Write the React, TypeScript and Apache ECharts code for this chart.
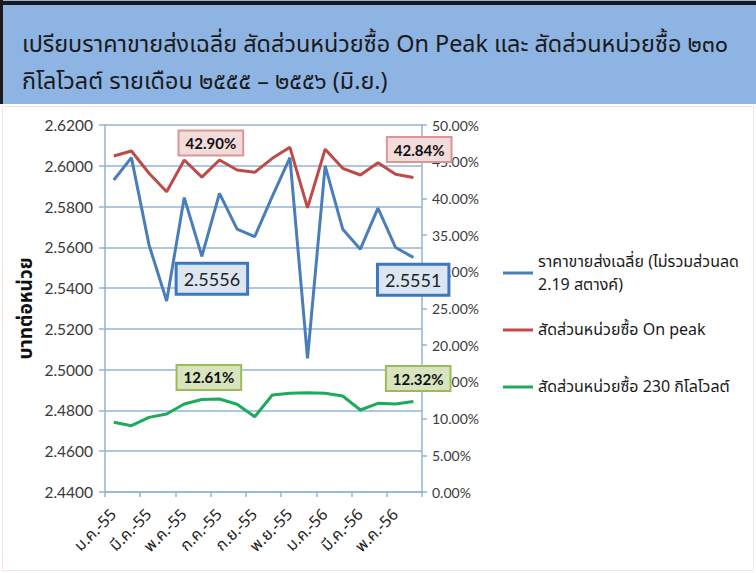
import React, { useEffect, useRef } from "react";
import * as echarts from "echarts";

const categories = [
  "ม.ค.-55", "ก.พ.-55", "มี.ค.-55", "เม.ย.-55", "พ.ค.-55", "มิ.ย.-55",
  "ก.ค.-55", "ส.ค.-55", "ก.ย.-55", "ต.ค.-55", "พ.ย.-55", "ธ.ค.-55",
  "ม.ค.-56", "ก.พ.-56", "มี.ค.-56", "เม.ย.-56", "พ.ค.-56", "มิ.ย.-56",
];

const avgPrice = [
  2.593, 2.604, 2.5612, 2.5337, 2.5844, 2.5556, 2.5865, 2.5689, 2.5652,
  2.585, 2.604, 2.5056, 2.6, 2.5689, 2.5591, 2.5792, 2.5599, 2.5551,
];

const onPeakShare = [
  45.78, 46.46, 43.42, 40.91, 45.23, 42.9, 45.23, 43.87, 43.55,
  45.46, 46.96, 38.7, 46.69, 44.1, 43.19, 44.86, 43.28, 42.84,
];

const kv230Share = [
  9.5, 9.03, 10.17, 10.63, 11.99, 12.61, 12.67, 11.95, 10.26,
  13.22, 13.45, 13.53, 13.45, 13.08, 11.17, 12.08, 11.99, 12.32,
];

const labelledIndices = [5, 17];

const seriesNames = [
  "ราคาขายส่งเฉลี่ย (ไม่รวมส่วนลด 2.19 สตางค์)",
  "สัดส่วนหน่วยซื้อ On peak",
  "สัดส่วนหน่วยซื้อ 230 กิโลโวลต์",
];

const titleLines = [
  "เปรียบราคาขายส่งเฉลี่ย สัดส่วนหน่วยซื้อ On Peak และ สัดส่วนหน่วยซื้อ ๒๓๐",
  "กิโลโวลต์ รายเดือน ๒๕๕๕ – ๒๕๕๖ (มิ.ย.)",
];

const THAI = "'Noto Sans Thai', 'Noto Sans Thai Looped', Tahoma, 'DejaVu Sans', sans-serif";
const NUM = "Lato, 'Open Sans', 'DejaVu Sans', sans-serif";
const GRID = "#93B5D3";

export default function App() {
  const ref = useRef<HTMLDivElement>(null);

  useEffect(() => {
    if (!ref.current) return;
    const chart = echarts.init(ref.current, undefined, { renderer: "svg" });

    const blueLabel = (i: number) => ({
      show: true,
      position: "bottom",
      distance: 8,
      offset: [i === 5 ? 10 : 0, 0],
      formatter: (p: any) => Number(p.value).toFixed(4),
      backgroundColor: "#DCE6F2",
      borderColor: "#3C78C0",
      borderWidth: 3,
      padding: [5, 6],
      fontSize: 18,
      color: "#222",
      fontFamily: NUM,
    });
    const redLabel = (i: number) => ({
      show: true,
      position: "top",
      distance: i === 5 ? 22 : 16,
      offset: [i === 5 ? 9 : 6, 0],
      formatter: (p: any) => Number(p.value).toFixed(2) + "%",
      backgroundColor: "#F2DCDB",
      borderColor: "#D99694",
      borderWidth: 2,
      padding: [4, 6],
      fontSize: 15,
      fontWeight: "bold",
      color: "#111",
      fontFamily: NUM,
    });
    const greenLabel = (i: number) => ({
      show: true,
      position: "top",
      distance: i === 5 ? 10 : 11,
      offset: [i === 5 ? 7 : 5, 0],
      formatter: (p: any) => Number(p.value).toFixed(2) + "%",
      backgroundColor: "#D7E4BD",
      borderColor: "#9BBB59",
      borderWidth: 2,
      padding: [4, 6],
      fontSize: 15,
      fontWeight: "bold",
      color: "#111",
      fontFamily: NUM,
    });

    const withLabels = (arr: number[], mk: (i: number) => any) =>
      arr.map((v, i) =>
        labelledIndices.includes(i)
          ? { value: v, symbol: "circle", symbolSize: 1, label: mk(i) }
          : v
      );

    const legendText = { fontSize: 16, color: "#1a1a1a", fontFamily: THAI, lineHeight: 23 };
    const legendBase = {
      orient: "vertical",
      left: 503,
      padding: 0,
      icon: "rect",
      itemWidth: 30,
      itemHeight: 3,
    };

    chart.setOption({
      animation: false,
      backgroundColor: "#ffffff",
      title: {
        text: titleLines.join("\n"),
        left: 22,
        top: 26,
        padding: 0,
        textStyle: {
          fontSize: 23.4,
          fontWeight: "normal",
          lineHeight: 37,
          color: "#1a1a1a",
          fontFamily: THAI,
        },
      },
      graphic: [
        { type: "rect", z: -10, shape: { x: 0, y: 0, width: 756, height: 104 }, style: { fill: "#8EB4E3" } },
        { type: "rect", z: -9, shape: { x: 0, y: 1, width: 756, height: 4 }, style: { fill: "#1a1a1a" } },
        { type: "rect", z: -9, shape: { x: 0, y: 0, width: 3, height: 104 }, style: { fill: "#1a1a1a" } },
        { type: "rect", z: -9, shape: { x: 2.5, y: 106.5, width: 751, height: 464 }, style: { fill: "none", stroke: "#F7E4DD", lineWidth: 1 } },
      ],
      legend: [
        {
          ...legendBase,
          data: [seriesNames[0]],
          top: 238.5,
          formatter: () => "ราคาขายส่งเฉลี่ย (ไม่รวมส่วนลด\n2.19 สตางค์)",
          textStyle: { ...legendText, padding: [23, 0, 0, 0] },
        },
        { ...legendBase, data: [seriesNames[1]], top: 318.5, textStyle: legendText },
        { ...legendBase, data: [seriesNames[2]], top: 375.5, textStyle: legendText },
      ],
      grid: { left: 105, right: 334, top: 125, bottom: 81, containLabel: false },
      xAxis: {
        type: "category",
        data: categories,
        boundaryGap: true,
        axisLine: { lineStyle: { color: GRID, width: 1.5 } },
        axisTick: { show: true, interval: 1, length: 5, lineStyle: { color: GRID, width: 1.5 } },
        axisLabel: {
          interval: 1,
          rotate: 45,
          fontSize: 16,
          color: "#222",
          margin: 20,
          fontFamily: THAI,
        },
      },
      yAxis: [
        {
          type: "value",
          min: 2.44,
          max: 2.62,
          interval: 0.02,
          name: "บาทต่อหน่วย",
          nameLocation: "middle",
          nameGap: 69,
          nameRotate: 90,
          nameTextStyle: { fontSize: 19, fontWeight: "bold", color: "#111", fontFamily: THAI },
          axisLine: { show: true, lineStyle: { color: GRID, width: 1.5 } },
          axisTick: { show: true, length: 6, lineStyle: { color: GRID, width: 1.5 } },
          axisLabel: {
            formatter: (v: number) => v.toFixed(4),
            fontSize: 15.5,
            color: "#3a3a3a",
            margin: 12,
            fontFamily: NUM,
          },
          splitLine: { show: true, lineStyle: { color: GRID, width: 1.5 } },
        },
        {
          type: "value",
          position: "right",
          min: 0,
          max: 50,
          interval: 5,
          axisLine: { show: true, lineStyle: { color: GRID, width: 1.5 } },
          axisTick: { show: true, length: 5, lineStyle: { color: GRID, width: 1.5 } },
          axisLabel: {
            formatter: (v: number) => v.toFixed(2) + "%",
            fontSize: 14,
            color: "#3a3a3a",
            margin: 10,
            fontFamily: NUM,
          },
          splitLine: { show: false },
        },
      ],
      series: [
        {
          name: seriesNames[0],
          type: "line",
          yAxisIndex: 0,
          symbol: "none",
          showAllSymbol: true,
          z: 3,
          lineStyle: { color: "#4A7EBB", width: 3 },
          itemStyle: { color: "#4A7EBB" },
          data: withLabels(avgPrice, blueLabel),
        },
        {
          name: seriesNames[1],
          type: "line",
          yAxisIndex: 1,
          symbol: "none",
          showAllSymbol: true,
          z: 2,
          lineStyle: { color: "#BE4B48", width: 3 },
          itemStyle: { color: "#BE4B48" },
          data: withLabels(onPeakShare, redLabel),
        },
        {
          name: seriesNames[2],
          type: "line",
          yAxisIndex: 1,
          symbol: "none",
          showAllSymbol: true,
          z: 2,
          lineStyle: { color: "#1EAA5B", width: 3 },
          itemStyle: { color: "#1EAA5B" },
          data: withLabels(kv230Share, greenLabel),
        },
      ],
    });

    return () => chart.dispose();
  }, []);

  return (
    <div
      ref={ref}
      style={{ position: "absolute", left: 0, top: 0, width: 756, height: 573, background: "#fff" }}
    />
  );
}
